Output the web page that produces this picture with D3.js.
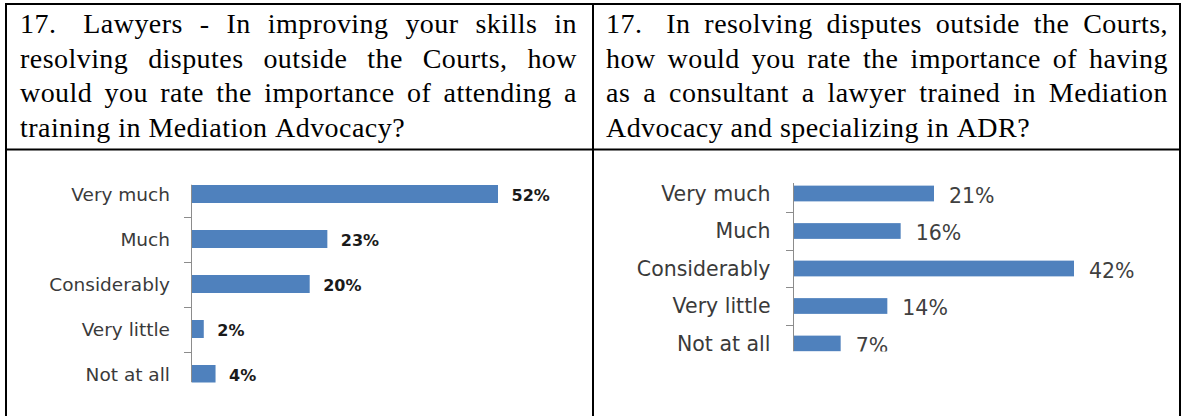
<!DOCTYPE html>
<head>
    <meta charset="utf-8">
    <title>17 - Mediation Advocacy questions</title>
    <style>
        body { margin: 0; background: #fff; }
        svg { display: block; }
    </style>
</head>
<body>

<svg width="1182" height="416"></svg>

<script src="https://d3js.org/d3.v7.min.js"></script>

<script>
    // data
    var categories = ["Very much", "Much", "Considerably", "Very little", "Not at all"];
    var lawyerValues = [52, 23, 20, 2, 4];
    var consultantValues = [21, 16, 42, 14, 7];

    // question text, one entry per printed line
    var leftQuestion = [
        "17.  Lawyers - In improving your skills in",
        "resolving disputes outside the Courts, how",
        "would you rate the importance of attending a",
        "training in Mediation Advocacy?"
    ];
    var rightQuestion = [
        "17.  In resolving disputes outside the Courts,",
        "how would you rate the importance of having",
        "as a consultant a lawyer trained in Mediation",
        "Advocacy and specializing in ADR?"
    ];

    var svg = d3.select("svg"),
        width = +svg.attr("width"),
        height = +svg.attr("height");

    // table borders
    var borders = svg.append("g")
        .attr("stroke", "#000")
        .attr("stroke-width", 2);
    [6, 593, 1180].forEach(function(x) {
        borders.append("line").attr("x1", x).attr("x2", x).attr("y1", 3).attr("y2", height);
    });
    [4, 149.5].forEach(function(y) {
        borders.append("line").attr("x1", 5).attr("x2", 1181).attr("y1", y).attr("y2", y);
    });

    // justified question text (last line left aligned)
    function drawQuestion(lines, left, right) {
        var g = svg.append("g")
            .attr("font-family", "'Liberation Serif', 'Times New Roman', serif")
            .attr("font-size", 28)
            .attr("letter-spacing", "0.45px")
            .attr("fill", "#000");
        var baselines = [33, 67.7, 102.4, 137];
        lines.forEach(function(line, i) {
            var words = line.split(/ +/),
                // a double space gets a fixed extra width on top of the normal gap
                extras = (line.match(/ +/g) || []).map(function(s) { return s.length > 1 ? 10 : 0; });
            var nodes = words.map(function(w) {
                return g.append("text").attr("y", baselines[i]).text(w);
            });
            var lens = nodes.map(function(n) { return n.node().getComputedTextLength(); });
            var total = d3.sum(lens) + d3.sum(extras),
                last = i === lines.length - 1;
            var unit = last ? 7.5 : (right - left - total) / extras.length;
            var x = left;
            nodes.forEach(function(n, j) {
                n.attr("x", x);
                x += lens[j] + (j < extras.length ? unit + extras[j] : 0);
            });
        });
    }
    drawQuestion(leftQuestion, 20, 577);
    drawQuestion(rightQuestion, 606, 1168);

    // bar chart inside a cell
    function drawChart(values, o) {
        var clipId = "clip" + o.id;
        svg.append("clipPath").attr("id", clipId)
          .append("rect")
            .attr("x", 0).attr("width", width)
            .attr("y", o.clip[0]).attr("height", o.clip[1] - o.clip[0]);

        var g = svg.append("g").attr("clip-path", "url(#" + clipId + ")");

        var x = d3.scaleLinear()
            .domain([0, o.max])
            .range([o.x0, o.x1]);

        var y = d3.scaleBand()
            .domain(categories)
            .range(o.yRange);

        var barH = y.bandwidth() * o.barFrac;

        // bars
        g.selectAll("rect.bar")
            .data(values)
            .enter().append("rect")
                .attr("class", "bar")
                .attr("x", x(0))
                .attr("y", function(d, i) { return y(categories[i]) + (y.bandwidth() - barH) / 2; })
                .attr("width", function(d) { return x(d) - x(0); })
                .attr("height", barH)
                .attr("fill", "#4f81bd");

        // category labels
        var axis = g.append("g")
            .attr("transform", "translate(" + x(0) + ",0)")
            .call(d3.axisLeft(y).tickSize(0).tickPadding(o.labelPad));
        axis.select(".domain").remove();
        axis.selectAll("text")
            .attr("font-family", "'DejaVu Sans', Verdana, sans-serif")
            .attr("font-size", o.labelSize)
            .attr("fill", "#3a3a3a")
            .attr("dy", "0.36em");

        // axis line and tick marks at category boundaries
        g.append("line")
            .attr("x1", x(0) - 0.5).attr("x2", x(0) - 0.5)
            .attr("y1", o.clip[0]).attr("y2", o.clip[1])
            .attr("stroke", "#8c8c8c");
        g.selectAll("line.tick")
            .data(categories.slice(1))
            .enter().append("line")
                .attr("class", "tick")
                .attr("x1", x(0) - 8).attr("x2", x(0) - 0.5)
                .attr("y1", function(d) { return Math.round(y(d)) + 0.5; })
                .attr("y2", function(d) { return Math.round(y(d)) + 0.5; })
                .attr("stroke", "#8c8c8c");

        // value labels
        g.selectAll("text.value")
            .data(values)
            .enter().append("text")
                .attr("class", "value")
                .attr("x", function(d) { return x(d) + o.valuePad; })
                .attr("y", function(d, i) { return y(categories[i]) + y.bandwidth() / 2 + o.valueShift; })
                .attr("font-family", "'DejaVu Sans', Verdana, sans-serif")
                .attr("font-size", o.valueSize)
                .attr("font-weight", o.valueWeight)
                .attr("fill", o.valueColor)
                .text(function(d) { return d + "%"; });
    }

    drawChart(lawyerValues, {
        id: "L", max: 52, x0: 192, x1: 498,
        yRange: [171.5, 396.5], barFrac: 0.4, clip: [184.5, 382.5],
        labelPad: 22, labelSize: 18.5,
        valuePad: 13.5, valueShift: 6.5, valueSize: 16, valueWeight: "bold", valueColor: "#1a1a1a"
    });

    drawChart(consultantValues, {
        id: "R", max: 42, x0: 794, x1: 1074,
        yRange: [174.75, 362.25], barFrac: 0.42, clip: [183, 351.5],
        labelPad: 23.5, labelSize: 20.5,
        valuePad: 15, valueShift: 9, valueSize: 20.5, valueWeight: "normal", valueColor: "#404040"
    });
</script>

</body>
